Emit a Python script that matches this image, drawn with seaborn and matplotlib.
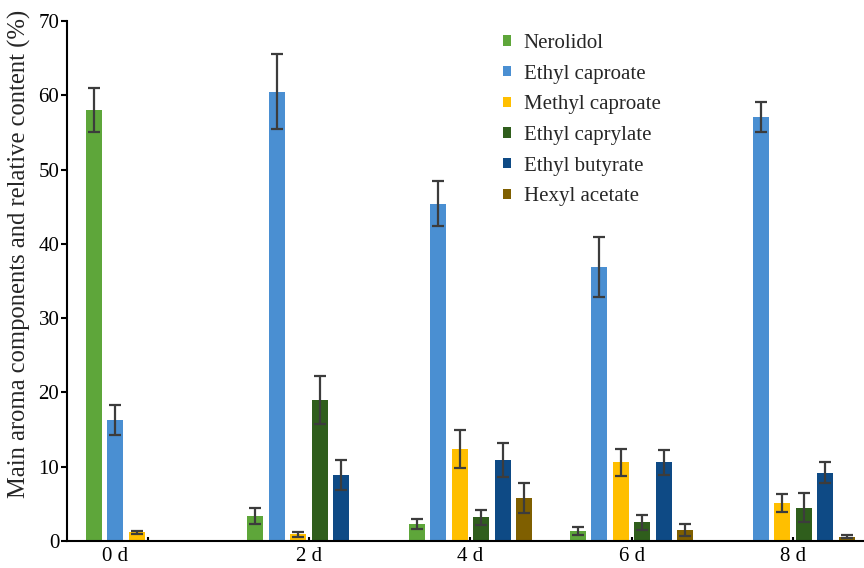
import numpy as np
import pandas as pd
import matplotlib
matplotlib.use("Agg")
import matplotlib.pyplot as plt
import matplotlib.transforms as mtransforms
import seaborn as sns

# Storage days and aroma compounds
days = ["0 d", "2 d", "4 d", "6 d", "8 d"]
compounds = ["Nerolidol", "Ethyl caproate", "Methyl caproate",
             "Ethyl caprylate", "Ethyl butyrate", "Hexyl acetate"]

# Relative content (%) of each compound per day
nerolidol = [58.0, 3.4, 2.3, 1.3, 0.1]
ethyl_caproate = [16.3, 60.5, 45.4, 36.9, 57.1]
methyl_caproate = [1.2, 0.9, 12.4, 10.6, 5.1]
ethyl_caprylate = [0.0, 19.0, 3.2, 2.5, 4.5]
ethyl_butyrate = [0.0, 8.9, 10.9, 10.6, 9.2]
hexyl_acetate = [0.0, 0.2, 5.8, 1.5, 0.6]

# Standard deviations
nerolidol_sd = [3.0, 1.1, 0.7, 0.55, 0.0]
ethyl_caproate_sd = [2.0, 5.0, 3.0, 4.0, 2.0]
methyl_caproate_sd = [0.2, 0.3, 2.6, 1.8, 1.2]
ethyl_caprylate_sd = [0.0, 3.2, 1.0, 1.0, 2.0]
ethyl_butyrate_sd = [0.0, 2.0, 2.3, 1.7, 1.4]
hexyl_acetate_sd = [0.0, 0.0, 2.0, 0.8, 0.2]

colors = ["#5EA63A", "#4A8FD2", "#FFBF00", "#2F5E1C", "#0E4A85", "#7F5F00"]

values = [nerolidol, ethyl_caproate, methyl_caproate,
          ethyl_caprylate, ethyl_butyrate, hexyl_acetate]
errors = [nerolidol_sd, ethyl_caproate_sd, methyl_caproate_sd,
          ethyl_caprylate_sd, ethyl_butyrate_sd, hexyl_acetate_sd]

df = pd.DataFrame({
    "day": np.tile(days, len(compounds)),
    "compound": np.repeat(compounds, len(days)),
    "value": np.concatenate(values),
})

sns.set_theme(style="ticks")
plt.rcParams["font.family"] = ["Liberation Serif", "DejaVu Serif"]

fig = plt.figure(figsize=(8.64, 5.68), dpi=100)
ax = fig.add_axes([67 / 864, 27 / 568, 797 / 864, 520 / 568])

sns.barplot(data=df, x="day", y="value", hue="compound", order=days,
            hue_order=compounds, palette=colors, saturation=1,
            width=0.8, gap=0.26, errorbar=None, linewidth=0, ax=ax)

# error bars on top of each bar
for container, errs in zip(ax.containers, errors):
    for patch, e in zip(container.patches, errs):
        if e <= 0:
            continue
        xc = patch.get_x() + patch.get_width() / 2
        ax.errorbar(xc, patch.get_height(), yerr=e, fmt="none",
                    ecolor="#3C3C3C", elinewidth=1.6, capsize=4,
                    capthick=1.6, zorder=5)

ax.set_ylim(0, 70)
ax.set_xlim(-0.5, 4.44)
ax.set_yticks(np.arange(0, 71, 10))
ax.set_xlabel("")
ax.set_ylabel("Main aroma components and relative content (%)",
              fontsize=17.7)
ax.yaxis.set_label_coords(-0.045, 0.553)

for side in ["top", "right"]:
    ax.spines[side].set_visible(False)
for side in ["left", "bottom"]:
    ax.spines[side].set_linewidth(1.5)
    ax.spines[side].set_color("black")

ax.tick_params(axis="y", direction="out", length=4, width=1.5,
               labelsize=15, pad=1.5, colors="black")
ax.tick_params(axis="x", direction="in", length=3, width=1.5,
               labelsize=15, pad=4, colors="black")

# first day label sits left of its tick
offset = mtransforms.ScaledTranslation(-0.33, 0, fig.dpi_scale_trans)
lbl0 = ax.get_xticklabels()[0]
lbl0.set_transform(lbl0.get_transform() + offset)

handles, labels = ax.get_legend_handles_labels()
ax.legend(handles, labels, loc="upper left",
          bbox_to_anchor=(503 / 864, 1 - 34 / 568),
          bbox_transform=fig.transFigure, frameon=False, fontsize=15,
          handlelength=0.4, handleheight=0.4, handletextpad=0.6,
          labelspacing=0.56, borderpad=0, borderaxespad=0)

fig.savefig("out.png", dpi=100)
